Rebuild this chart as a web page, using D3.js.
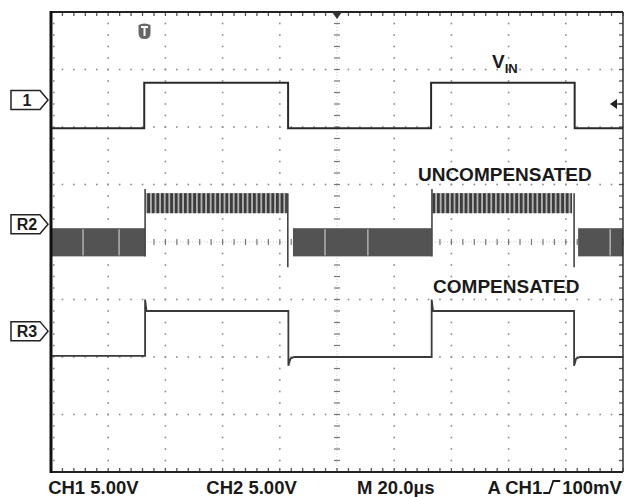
<!DOCTYPE html>
<html>
<head>
<meta charset="utf-8">
<script src="https://cdn.jsdelivr.net/npm/d3@7"></script>
<style>
body{margin:0;background:#fff}
svg{display:block}
text{font-family:"Liberation Sans",Arial,sans-serif;font-weight:bold;fill:#1a1a1a}
</style>
</head>
<body>
<svg id="scope" width="626" height="497"></svg>
<script>
// screen: 10 divisions of 20us, 8 divisions of 5V; levels are in divisions
var timeDomain = [0, 200];
var divDomain = [-4, 4];

// CH1 input (t in us, level in div)
var vinT = [0, 32.6, 32.6, 82.9, 82.9, 132.9, 132.9, 183.1, 183.1, 200];
var vinV = [1.98, 1.98, 2.77, 2.77, 1.98, 1.98, 2.77, 2.77, 1.98, 1.98];

// R3, compensated output
var compT = [0, 32.9, 32.9, 33.4, 83.0, 83.0, 83.7, 85.0, 133.1, 133.1, 133.6, 182.9, 182.9, 183.6, 185.0, 200];
var compV = [-1.98, -1.98, -1.0, -1.2, -1.2, -2.15, -2.03, -2.0, -2.0, -1.0, -1.2, -1.2, -2.15, -2.03, -2.0, -2.0];

// R2, uncompensated output: noise envelopes and edges
var uncLowBands = [[0, 32.9], [84.6, 133.1], [184.3, 200]];
var uncLowEnv = [-0.25, 0.24];
var uncHighBands = [[33.1, 82.5], [133.3, 182.2]];
var uncHighEnv = [0.5, 0.85];
var uncGaps = [11.2, 23.8, 95.8, 110.8, 195.5];
// [time, from level, to level]
var uncEdges = [[32.9, -0.25, 0.92], [133.2, -0.25, 0.92], [82.8, 0.85, -0.44], [182.9, 0.85, -0.44]];

// reference markers on the left
var markers = [{name: "1", level: 2.47}, {name: "R2", level: 0.31}, {name: "R3", level: -1.55}];
var trigLevel = 2.4;

var labels = [
  {text: "UNCOMPENSATED", t: 128.3, level: 1.06},
  {text: "COMPENSATED", t: 133.6, level: -0.89}
];
var footer = [
  {text: "CH1 5.00V", t: -1.0},
  {text: "CH2 5.00V", t: 54.3},
  {text: "M 20.0\u00b5s", t: 107.0}
];

var svg = d3.select("#scope");
var x = d3.scaleLinear().domain(timeDomain).range([51, 623]);
var y = d3.scaleLinear().domain(divDomain).range([472, 12]);

var majorT = d3.range(20, 200, 20);
var majorV = d3.range(-3, 4, 1);
var minorT = d3.range(0, 200.01, 4);
var minorV = d3.range(-4, 4.01, 0.2);

// graticule dots
var grid = svg.append("g");
majorT.filter(function(t){ return t != 100; }).forEach(function(t){
  grid.selectAll(null).data(minorV).enter().append("rect")
    .attr("x", x(t) - 0.8).attr("y", function(v){ return y(v) - 0.8; })
    .attr("width", 1.6).attr("height", 1.6).attr("fill", "#8a8a8a");
});
majorV.filter(function(v){ return v != 0; }).forEach(function(v){
  grid.selectAll(null).data(minorT).enter().append("rect")
    .attr("x", function(t){ return x(t) - 0.8; }).attr("y", y(v) - 0.8)
    .attr("width", 1.6).attr("height", 1.6).attr("fill", "#8a8a8a");
});

// center axes with minor ticks
grid.append("line").attr("x1", x(100)).attr("x2", x(100)).attr("y1", y(4)).attr("y2", y(-4))
  .attr("stroke", "#c8c8c8").attr("stroke-dasharray", "1,2");
grid.append("line").attr("x1", x(0)).attr("x2", x(200)).attr("y1", y(0)).attr("y2", y(0))
  .attr("stroke", "#c8c8c8").attr("stroke-dasharray", "1,2");
grid.selectAll(null).data(minorV).enter().append("line")
  .attr("x1", x(100) - 3).attr("x2", x(100) + 3)
  .attr("y1", function(v){ return y(v); }).attr("y2", function(v){ return y(v); })
  .attr("stroke", "#777").attr("stroke-width", 1.2);
grid.selectAll(null).data(minorT).enter().append("line")
  .attr("y1", y(0) - 3).attr("y2", y(0) + 3)
  .attr("x1", function(t){ return x(t); }).attr("x2", function(t){ return x(t); })
  .attr("stroke", "#777").attr("stroke-width", 1.2);

// border ticks
grid.selectAll(null).data(minorT).enter().append("line")
  .attr("x1", function(t){ return x(t); }).attr("x2", function(t){ return x(t); })
  .attr("y1", y(4)).attr("y2", y(4) + 4).attr("stroke", "#555").attr("stroke-width", 1.3);
grid.selectAll(null).data(minorT).enter().append("line")
  .attr("x1", function(t){ return x(t); }).attr("x2", function(t){ return x(t); })
  .attr("y1", y(-4)).attr("y2", y(-4) - 4).attr("stroke", "#555").attr("stroke-width", 1.3);
grid.selectAll(null).data(minorV).enter().append("rect")
  .attr("x", x(0) + 2).attr("y", function(v){ return y(v) - 0.8; })
  .attr("width", 1.6).attr("height", 1.6).attr("fill", "#8a8a8a");
grid.selectAll(null).data(minorV).enter().append("line")
  .attr("x1", x(200)).attr("x2", x(200) - 4)
  .attr("y1", function(v){ return y(v); }).attr("y2", function(v){ return y(v); })
  .attr("stroke", "#555").attr("stroke-width", 1.3);

// stripe pattern for the ringing in the high state
var defs = svg.append("defs");
var pat = defs.append("pattern").attr("id", "ring").attr("patternUnits", "userSpaceOnUse")
  .attr("width", 4.6).attr("height", 10);
pat.append("rect").attr("width", 4.6).attr("height", 10).attr("fill", "#b4b4b4");
pat.append("rect").attr("width", 2.8).attr("height", 10).attr("fill", "#3c3c3c");

var traces = svg.append("g");
var line = d3.line().x(function(d){ return x(d[0]); }).y(function(d){ return y(d[1]); });

// R2
traces.selectAll(null).data(uncLowBands).enter().append("rect")
  .attr("x", function(d){ return x(d[0]); })
  .attr("width", function(d){ return x(d[1]) - x(d[0]); })
  .attr("y", y(uncLowEnv[1])).attr("height", y(uncLowEnv[0]) - y(uncLowEnv[1]))
  .attr("fill", "#535353");
traces.selectAll(null).data(uncGaps).enter().append("line")
  .attr("x1", function(t){ return x(t); }).attr("x2", function(t){ return x(t); })
  .attr("y1", y(uncLowEnv[1]) + 1).attr("y2", y(uncLowEnv[0]) - 1)
  .attr("stroke", "#c8c8c8").attr("stroke-width", 1.2);
traces.selectAll(null).data(uncHighBands).enter().append("rect")
  .attr("x", function(d){ return x(d[0]); })
  .attr("width", function(d){ return x(d[1]) - x(d[0]); })
  .attr("y", y(uncHighEnv[1])).attr("height", y(uncHighEnv[0]) - y(uncHighEnv[1]))
  .attr("fill", "url(#ring)");
traces.selectAll(null).data(uncEdges).enter().append("line")
  .attr("x1", function(d){ return x(d[0]); }).attr("x2", function(d){ return x(d[0]); })
  .attr("y1", function(d){ return y(d[1]); }).attr("y2", function(d){ return y(d[2]); })
  .attr("stroke", "#444").attr("stroke-width", 1.6);

// CH1 and R3
traces.append("path").attr("d", line(d3.zip(vinT, vinV)))
  .attr("fill", "none").attr("stroke", "#2a2a2a").attr("stroke-width", 2);
traces.append("path").attr("d", line(d3.zip(compT, compV)))
  .attr("fill", "none").attr("stroke", "#3a3a3a").attr("stroke-width", 1.8);

// frame
svg.append("line").attr("x1", x(0)).attr("x2", x(200)).attr("y1", y(4)).attr("y2", y(4))
  .attr("stroke", "#222").attr("stroke-width", 2);
svg.append("line").attr("x1", x(0)).attr("x2", x(200)).attr("y1", y(-4)).attr("y2", y(-4))
  .attr("stroke", "#222").attr("stroke-width", 2);
svg.append("line").attr("x1", x(200)).attr("x2", x(200)).attr("y1", y(4)).attr("y2", y(-4))
  .attr("stroke", "#333").attr("stroke-width", 1.5);
svg.append("line").attr("x1", x(0)).attr("x2", x(0)).attr("y1", y(4) - 1).attr("y2", y(-4) + 1)
  .attr("stroke", "#111").attr("stroke-width", 3);

// trigger position marker and icon
svg.append("path")
  .attr("d", "M" + (x(100) - 5) + "," + y(4) + "L" + (x(100) + 5) + "," + y(4) + "L" + x(100) + "," + (y(4) + 7) + "Z")
  .attr("fill", "#333");
var icon = svg.append("g").attr("transform", "translate(" + x(32.7) + "," + (y(4) + 19) + ")");
icon.append("path").attr("d", "M-6,-6 Q0,-9 6,-6 L6,2 Q6,8 0,8 Q-6,8 -6,2 Z").attr("fill", "#666");
icon.append("path").attr("d", "M-3.5,-4 L3.5,-4 M0,-4 L0,5").attr("stroke", "#fff").attr("stroke-width", 2);

// trigger level arrow on the right
svg.append("path")
  .attr("d", "M" + (x(200) - 13) + "," + y(trigLevel) + "l7,-5 l0,10 Z").attr("fill", "#222");
svg.append("line").attr("x1", x(200) - 7).attr("x2", x(200)).attr("y1", y(trigLevel)).attr("y2", y(trigLevel))
  .attr("stroke", "#222").attr("stroke-width", 1.2);

// channel markers
var mk = svg.selectAll(null).data(markers).enter().append("g")
  .attr("transform", function(d){ return "translate(0," + y(d.level) + ")"; });
mk.append("path").attr("d", "M11,-9.5 L40,-9.5 L48,0 L40,9.5 L11,9.5 Z")
  .attr("fill", "#fff").attr("stroke", "#222").attr("stroke-width", 1.5);
mk.append("text").attr("x", 27).attr("y", 6).attr("text-anchor", "middle")
  .style("font-size", "16px").text(function(d){ return d.name; });

// annotations
var vinLabel = svg.append("text").attr("x", x(154.2)).attr("y", y(3.02)).style("font-size", "19px");
vinLabel.append("tspan").text("V");
vinLabel.append("tspan").attr("dy", 5).style("font-size", "13px").text("IN");
svg.selectAll(null).data(labels).enter().append("text")
  .attr("x", function(d){ return x(d.t); }).attr("y", function(d){ return y(d.level); })
  .style("font-size", "19px").text(function(d){ return d.text; });

// readout line
svg.selectAll(null).data(footer).enter().append("text")
  .attr("x", function(d){ return x(d.t); }).attr("y", 494)
  .style("font-size", "18.5px").text(function(d){ return d.text; });
var trigText = svg.append("text").attr("x", x(152.6)).attr("y", 494).style("font-size", "18.5px").text("A CH1");
var tx = x(152.6) + trigText.node().getComputedTextLength() + 1;
svg.append("path")
  .attr("d", "M" + tx + ",493 L" + (tx + 6) + ",493 L" + (tx + 10) + ",481 L" + (tx + 17) + ",481")
  .attr("fill", "none").attr("stroke", "#1a1a1a").attr("stroke-width", 1.8);
svg.append("text").attr("x", tx + 19).attr("y", 494).style("font-size", "18.5px").text("100mV");
</script>
</body>
</html>
